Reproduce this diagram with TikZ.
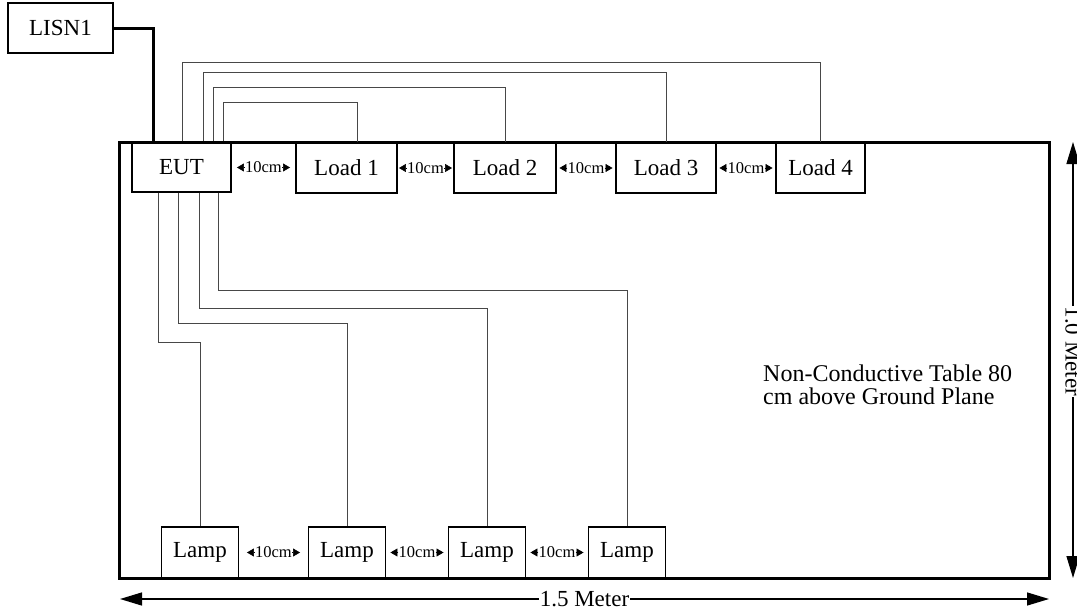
\documentclass[tikz,border=0pt]{standalone}
\usepackage{fontspec}
\setmainfont{Liberation Serif}
\usetikzlibrary{arrows.meta,calc}
\begin{document}
\begin{tikzpicture}[x=1pt,y=-1pt,
  box/.style={draw, line width=1.3pt, fill=white, minimum height=50pt, inner sep=0pt, font=\fontsize{23}{23}\selectfont},
  lampbox/.style={box, minimum width=77pt, minimum height=51pt},
  wire/.style={draw=black!72, line width=0.9pt},
  power/.style={line width=3pt},
  tablebox/.style={line width=3pt},
  dimline/.style={line width=1.3pt, {Triangle[length=22pt,width=13pt]}-{Triangle[length=22pt,width=13pt]}},
  dimlabel/.style={fill=white, inner sep=1pt, font=\fontsize{23}{23}\selectfont},
  gaplbl/.style={inner sep=0pt, font=\fontsize{16.5}{16.5}\selectfont},
  gaptip/.style={line width=0.6pt, -{Triangle[length=7pt,width=8pt]}}
]
\useasboundingbox (0,0) rectangle (1077,613);

% boxes
\node[box, minimum width=105pt] (lisn) at (60.5,28) {LISN1};
\node[box, minimum width=99pt]  (eut)  at (181.5,167) {EUT};
\node[box, minimum width=101pt] (l1)   at (346.5,168) {Load 1};
\node[box, minimum width=102pt] (l2)   at (505,168) {Load 2};
\node[box, minimum width=100pt] (l3)   at (666,168) {Load 3};
\node[box, minimum width=89pt]  (l4)   at (820.5,168) {Load 4};
\node[lampbox] (lamp1) at (200,552.5) {Lamp};
\node[lampbox] (lamp2) at (347,552.5) {Lamp};
\node[lampbox] (lamp3) at (487,552.5) {Lamp};
\node[lampbox] (lamp4) at (627,552.5) {Lamp};

% table
\coordinate (tl) at (119,142);
\coordinate (br) at (1049,578);
\draw[tablebox] (tl) rectangle (br);

% power line
\draw[power] (lisn.east) -| (eut.north -| 153,0);

% top wires to loads
\draw[wire] (eut.north -| 182,0) -- (182,62) -| (l4.north);
\draw[wire] (eut.north -| 203,0) -- (203,72) -| (l3.north);
\draw[wire] (eut.north -| 213,0) -- (213,87) -| (l2.north);
\draw[wire] (eut.north -| 223,0) -- (223,102) -| (l1.north -| 357,0);

% bottom wires to lamps
\draw[wire] (eut.south -| 158,0) -- (158,342) -| (lamp1.north);
\draw[wire] (eut.south -| 178,0) -- (178,323) -| (lamp2.north);
\draw[wire] (eut.south -| 199,0) -- (199,308) -| (lamp3.north);
\draw[wire] (eut.south -| 218,0) -- (218,290) -| (lamp4.north);

% 10cm spacings
\foreach \a/\b in {eut/l1, l1/l2, l2/l3, l3/l4, lamp1/lamp2, lamp2/lamp3, lamp3/lamp4} {
  \node[gaplbl] (g-\a) at ($(\a.east)!0.5!(\b.west)$) {10cm};
  \draw[gaptip] (g-\a.west) -- ++(-8,0);
  \draw[gaptip] (g-\a.east) -- ++(8,0);
}

% table text
\node[anchor=north west, align=left, inner sep=0pt, font=\fontsize{24}{23}\selectfont] (tbl) at (763,365)
  {Non-Conductive Table 80\\cm above Ground Plane};

% dimensions
\coordinate (hl) at (120,599);
\coordinate (hr) at (1049,599);
\draw[dimline] (hl) -- (hr) node[midway, dimlabel] (wlab) {1.5 Meter};
\coordinate (vt) at (1073,142);
\coordinate (vb) at (1073,578);
\draw[dimline] (vt) -- (vb) node[pos=0.48, dimlabel, rotate=-90] (hlab) {1.0 Meter};
\end{tikzpicture}
\end{document}
